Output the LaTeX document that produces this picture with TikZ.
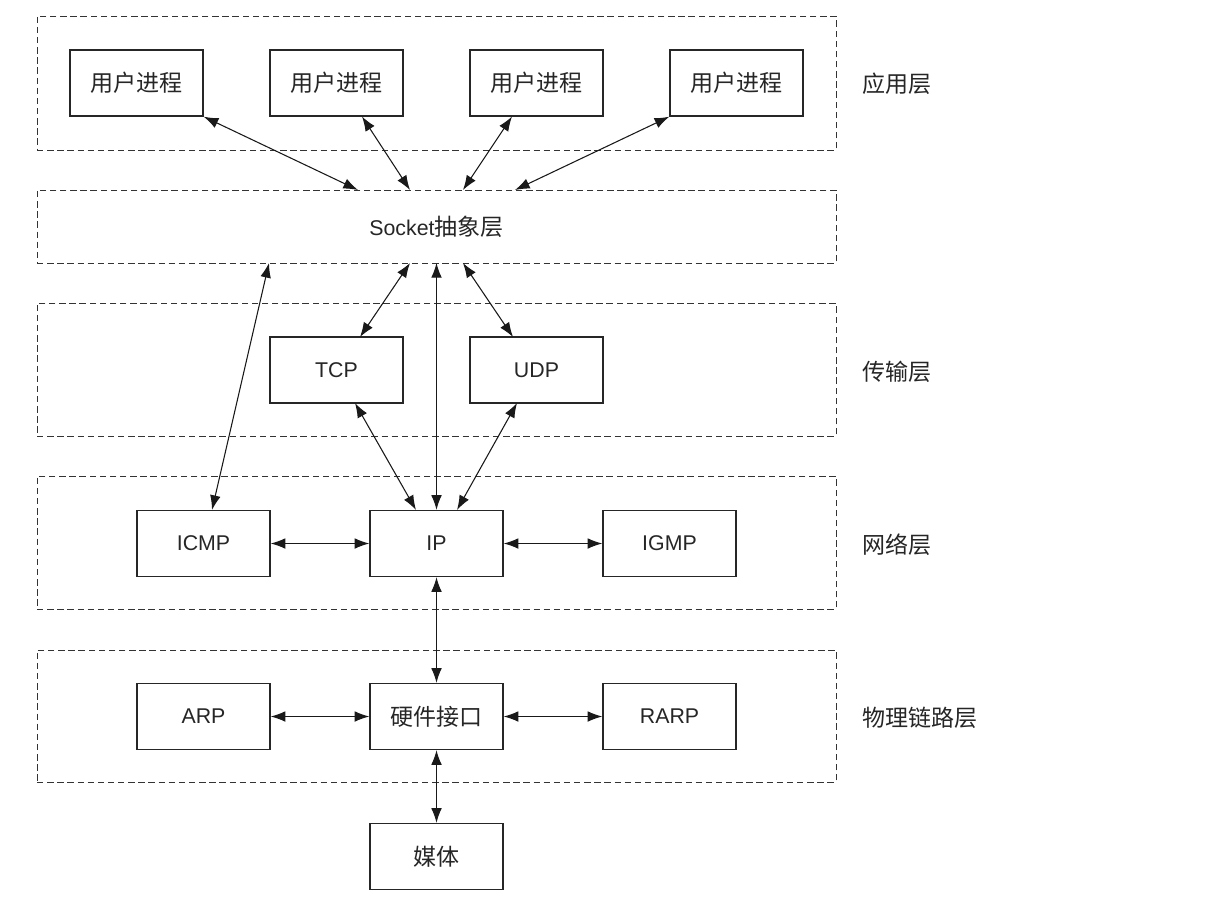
\documentclass[tikz,border=0pt]{standalone}
\usepackage{fontspec}
\setmainfont{Liberation Sans}
\newfontfamily\cjk[Scale=1.08]{Noto Sans CJK SC}
\usetikzlibrary{arrows.meta,calc}
\begin{document}
\begin{tikzpicture}[x=0.75pt,y=-0.75pt,
  font=\fontsize{16}{19}\selectfont, text=black!85,
  layer/.style={draw=black!80, line width=0.75pt, dash pattern=on 4.8pt off 2.8pt, inner sep=0pt},
  box/.style={draw=black!85, line width=1pt, minimum width=99.75pt, minimum height=49.5pt, inner sep=0pt},
  lbl/.style={anchor=west, inner sep=0pt},
  conn/.style={line width=0.8pt, black!90, {Latex[length=11pt,width=8pt]}-{Latex[length=11pt,width=8pt]}}]
\useasboundingbox (0,0) rectangle (1232,911);
% layers
\node[layer, minimum width=599.25pt, minimum height=100.5pt] (app) at (436.5,83) {};
\node[layer, minimum width=599.25pt, minimum height=54.75pt] (sock) at (436.5,226.5) {Socket{\cjk 抽象层}};
\node[layer, minimum width=599.25pt, minimum height=99.75pt] (trans) at (436.5,369.5) {};
\node[layer, minimum width=599.25pt, minimum height=99.75pt] (net) at (436.5,542.5) {};
\node[layer, minimum width=599.25pt, minimum height=99pt] (phys) at (436.5,716) {};
% layer labels
\node[lbl] (lapp) at (862,84) {\cjk 应用层};
\node[lbl] (ltrans) at (862,372) {\cjk 传输层};
\node[lbl] (lnet) at (862,545) {\cjk 网络层};
\node[lbl] (lphys) at (862,718) {\cjk 物理链路层};
% boxes
\node[box] (p1) at (136.5,83) {\cjk 用户进程};
\node[box] (p2) at (336.5,83) {\cjk 用户进程};
\node[box] (p3) at (536.5,83) {\cjk 用户进程};
\node[box] (p4) at (736.5,83) {\cjk 用户进程};
\node[box] (tcp) at (336.5,370) {TCP};
\node[box] (udp) at (536.5,370) {UDP};
\node[box] (icmp) at (203.5,543.5) {ICMP};
\node[box] (ip) at (436.5,543.5) {IP};
\node[box] (igmp) at (669.5,543.5) {IGMP};
\node[box] (arp) at (203.5,716.5) {ARP};
\node[box] (hw) at (436.5,716.5) {\cjk 硬件接口};
\node[box] (rarp) at (669.5,716.5) {RARP};
\node[box] (media) at (436.5,856.5) {\cjk 媒体};
% connection points
\coordinate (p2s) at (362,116.5);
\coordinate (p3s) at (512,116.5);
\coordinate (s1) at (358,190);
\coordinate (s2) at (410,190);
\coordinate (s3) at (463,190);
\coordinate (s4) at (515,190);
\coordinate (b1) at (269,263);
\coordinate (b2) at (410,263);
\coordinate (b3) at (436.5,263);
\coordinate (b4) at (463,263);
\coordinate (icmpt) at (212,510);
\coordinate (tcpt) at (360,337);
\coordinate (udpt) at (513,337);
\coordinate (tcpb) at (355,403);
\coordinate (udpb) at (517,403);
\coordinate (ipt1) at (416,510);
\coordinate (ipt3) at (457,510);
% connectors
\draw[conn] (p1.south east) -- (s1);
\draw[conn] (p2s) -- (s2);
\draw[conn] (p3s) -- (s3);
\draw[conn] (p4.south west) -- (s4);
\draw[conn] (b1) -- (icmpt);
\draw[conn] (b2) -- (tcpt);
\draw[conn] (b3) -- (ip.north);
\draw[conn] (b4) -- (udpt);
\draw[conn] (tcpb) -- (ipt1);
\draw[conn] (udpb) -- (ipt3);
\draw[conn] (icmp.east) -- (ip.west);
\draw[conn] (ip.east) -- (igmp.west);
\draw[conn] (ip.south) -- (hw.north);
\draw[conn] (arp.east) -- (hw.west);
\draw[conn] (hw.east) -- (rarp.west);
\draw[conn] (hw.south) -- (media.north);
\end{tikzpicture}
\end{document}
